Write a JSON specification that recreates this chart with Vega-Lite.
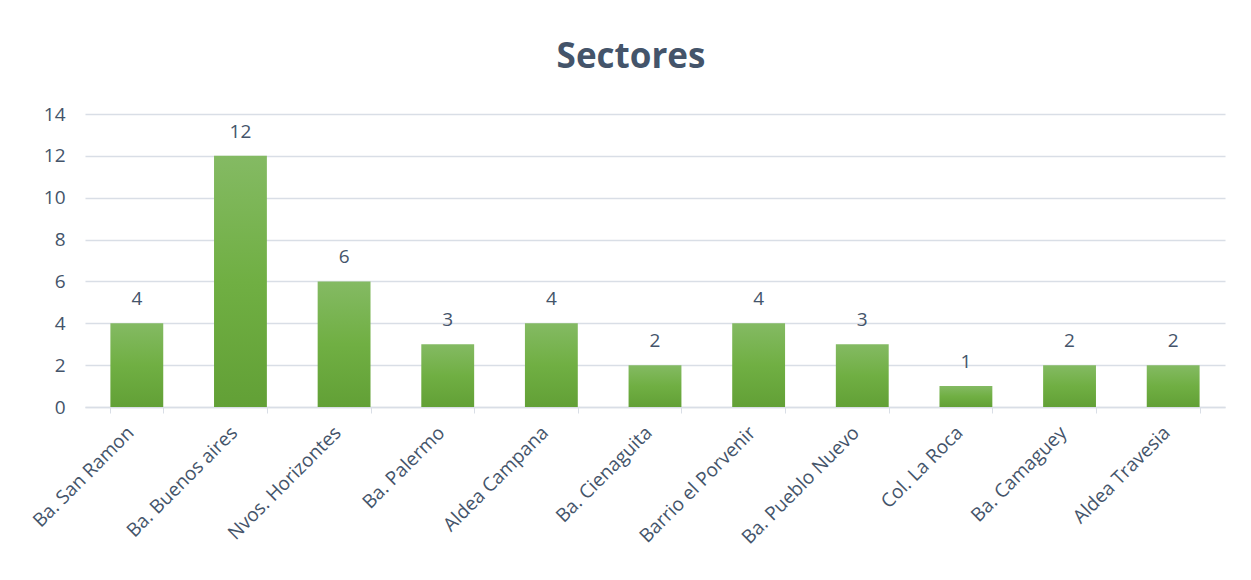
{
  "$schema": "https://vega.github.io/schema/vega-lite/v6.json",
  "width": 1140,
  "height": 293,
  "autosize": {"type": "none"},
  "padding": {"left": 85, "top": 114, "right": 26, "bottom": 173},
  "background": "white",
  "title": {
    "text": "Sectores",
    "font": "Open Sans",
    "fontSize": 35,
    "fontWeight": "bold",
    "color": "#44546A",
    "anchor": "middle",
    "dx": -24,
    "offset": 30
  },
  "data": {
    "values": [
      {"sector": "Ba. San Ramon", "n": 4},
      {"sector": "Ba. Buenos aires", "n": 12},
      {"sector": "Nvos. Horizontes", "n": 6},
      {"sector": "Ba. Palermo", "n": 3},
      {"sector": "Aldea Campana", "n": 4},
      {"sector": "Ba. Cienaguita", "n": 2},
      {"sector": "Barrio el Porvenir", "n": 4},
      {"sector": "Ba. Pueblo Nuevo", "n": 3},
      {"sector": "Col. La Roca", "n": 1},
      {"sector": "Ba. Camaguey", "n": 2},
      {"sector": "Aldea Travesia", "n": 2}
    ]
  },
  "encoding": {
    "x": {
      "field": "sector",
      "type": "nominal",
      "sort": null,
      "title": null,
      "scale": {"paddingInner": 0.49, "paddingOuter": 0.245},
      "axis": {
        "labelAngle": -45,
        "labelFont": "Open Sans",
        "labelFontSize": 19,
        "labelColor": "#44546A",
        "labelPadding": 10,
        "labelOffset": -13,
        "domainColor": "#D9DEE6",
        "domainWidth": 1.5,
        "tickColor": "#D9DEE6",
        "tickSize": 6,
        "tickBand": "extent",
        "grid": false
      }
    },
    "y": {
      "field": "n",
      "type": "quantitative",
      "title": null,
      "scale": {"domain": [0, 14], "nice": false},
      "axis": {
        "values": [0, 2, 4, 6, 8, 10, 12, 14],
        "labelFont": "Open Sans",
        "labelFontSize": 19,
        "labelColor": "#44546A",
        "labelPadding": 20,
        "domain": false,
        "ticks": false,
        "gridColor": "#D9DEE6",
        "gridWidth": 1.5
      }
    }
  },
  "layer": [
    {
      "mark": {
        "type": "bar",
        "color": {
          "gradient": "linear",
          "x1": 0, "y1": 0, "x2": 0, "y2": 1,
          "stops": [
            {"offset": 0, "color": "#84BA63"},
            {"offset": 0.5, "color": "#70AF43"},
            {"offset": 1, "color": "#62A036"}
          ]
        }
      }
    },
    {
      "mark": {
        "type": "text",
        "baseline": "bottom",
        "dy": -14,
        "font": "Open Sans",
        "fontSize": 19,
        "color": "#44546A"
      },
      "encoding": {"text": {"field": "n", "type": "quantitative"}}
    }
  ],
  "config": {"view": {"stroke": null}}
}
